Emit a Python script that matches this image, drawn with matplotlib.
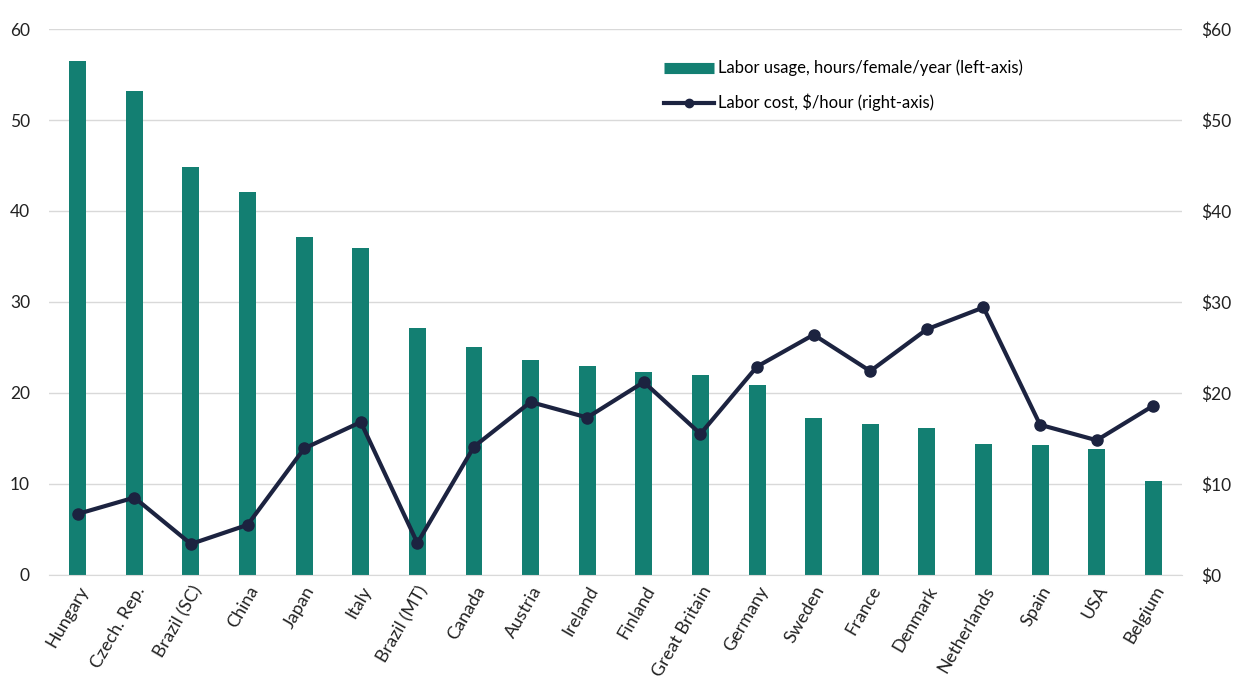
import matplotlib.pyplot as plt
from matplotlib.lines import Line2D
import numpy as np

plt.rcParams['font.family'] = ['Lato', 'DejaVu Sans']

countries = ['Hungary', 'Czech. Rep.', 'Brazil (SC)', 'China', 'Japan', 'Italy',
             'Brazil (MT)', 'Canada', 'Austria', 'Ireland', 'Finland', 'Great Britain',
             'Germany', 'Sweden', 'France', 'Denmark', 'Netherlands', 'Spain', 'USA', 'Belgium']
labor_usage = [56.5, 53.2, 44.8, 42.1, 37.1, 35.9, 27.1, 25.1, 23.6, 23.0,
               22.3, 22.0, 20.9, 17.2, 16.6, 16.2, 14.4, 14.3, 13.8, 10.3]
labor_cost = [6.7, 8.5, 3.4, 5.5, 13.9, 16.8, 3.5, 14.1, 19.0, 17.3,
              21.2, 15.5, 22.9, 26.4, 22.4, 27.0, 29.4, 16.5, 14.8, 18.6]

teal = '#137f72'
navy = '#1c2340'

fig = plt.figure(figsize=(12.36, 6.91), dpi=100)
ax = fig.add_axes([0.04, 0.168, 0.916, 0.79])
ax2 = ax.twinx()

x = np.arange(len(countries))
ax.bar(x, labor_usage, width=0.3, color=teal, zorder=2)
ax2.plot(x, labor_cost, color=navy, lw=3, marker='o', ms=8, zorder=3)

ax.set_ylim(0, 60)
ax2.set_ylim(0, 60)
ax.set_xlim(-0.5, len(countries) - 0.5)
ax.set_yticks(range(0, 61, 10))
ax2.set_yticks(range(0, 61, 10))
ax2.set_yticklabels(['$%d' % v for v in range(0, 61, 10)])
ax.yaxis.grid(True, color='#d9d9d9', lw=1, zorder=0)
ax.set_axisbelow(True)

ax.set_xticks(x)
ax.set_xticklabels(countries, rotation=60, ha='right', rotation_mode='anchor', fontsize=13, color='#222222')
for a in (ax, ax2):
    for s in a.spines.values():
        s.set_visible(False)
    a.tick_params(axis='y', length=0, labelsize=12.5, labelcolor='#222222')
ax.tick_params(axis='x', length=0, pad=6)
ax.spines['bottom'].set_visible(True)
ax.spines['bottom'].set_color('#d9d9d9')
ax.tick_params(axis='y', pad=14)
ax2.tick_params(axis='y', pad=14)

handles = [Line2D([0], [0], color=teal, lw=8, solid_capstyle='butt'),
           Line2D([0], [0], color=navy, lw=3, marker='o', ms=6)]
labels = ['Labor usage, hours/female/year (left-axis)', 'Labor cost, $/hour (right-axis)']
fig.legend(handles, labels, loc='upper left', bbox_to_anchor=(0.525, 0.935),
           frameon=False, fontsize=12, handlelength=3.0, handletextpad=0.25, labelspacing=1.05)

fig.savefig('out.png', dpi=100)
